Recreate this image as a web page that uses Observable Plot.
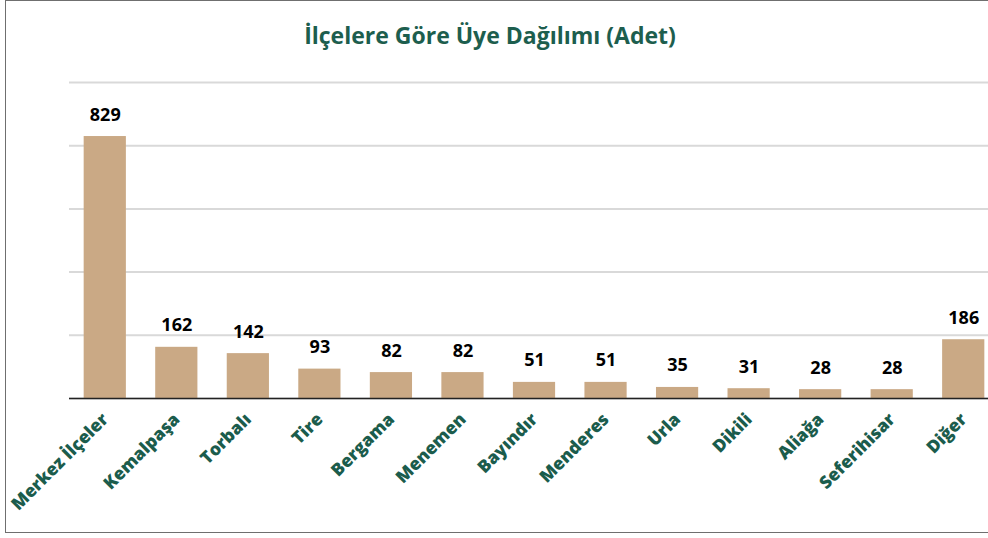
<!DOCTYPE html>
<html>
<head>
<meta charset="utf-8">
<script src="https://cdn.jsdelivr.net/npm/d3@7"></script>
<script src="https://cdn.jsdelivr.net/npm/@observablehq/plot@0.6"></script>
<style>
  html, body { margin: 0; padding: 0; overflow: hidden; background: #fff; width: 988px; height: 538px; }
  #frame { position: absolute; left: 5px; top: 0px; width: 1100px; height: 533px; border: 1px solid #6f6f6f; border-right: none; box-sizing: border-box; }
  #title { position: absolute; left: 0; width: 980px; top: 19px; text-align: center; font-family: "Open Sans", sans-serif; font-weight: 700; font-size: 23px; line-height: 32px; color: #1d5e4e; }
  #chart { position: absolute; left: 0; top: 60px; width: 1000px; }
  #chart svg { max-width: none !important; }
</style>
</head>
<body>
<div id="frame"></div>
<div id="title">İlçelere Göre Üye Dağılımı (Adet)</div>
<div id="chart"></div>
<script>
const categories = ["Merkez İlçeler", "Kemalpaşa", "Torbalı", "Tire", "Bergama", "Menemen", "Bayındır", "Menderes", "Urla", "Dikili", "Aliağa", "Seferihisar", "Diğer"];
const values = [829, 162, 142, 93, 82, 82, 51, 51, 35, 31, 28, 28, 186];
const gridTicks = [0, 200, 400, 600, 800, 1000];

const data = categories.map((c, i) => ({cat: c, value: values[i]}));

const chart = Plot.plot({
  width: 1000,
  height: 473,
  marginLeft: 69,
  marginRight: 1,
  marginTop: 22,
  marginBottom: 135,
  style: {fontFamily: "Open Sans, sans-serif", overflow: "visible", background: "transparent", maxWidth: "none"},
  x: {domain: categories, paddingInner: 0.41, paddingOuter: 0.205, round: false, label: null},
  y: {domain: [0, 1000], axis: null},
  marks: [
    Plot.gridY(gridTicks, {stroke: "#d9d9d9", strokeOpacity: 1, strokeWidth: 2}),
    Plot.barY(data, {x: "cat", y: "value", fill: "#caa985"}),
    Plot.ruleY([0], {stroke: "#222", strokeWidth: 1.5}),
    Plot.text(data, {x: "cat", y: "value", text: d => String(d.value), dy: -16, lineAnchor: "bottom", fontWeight: "bold", fontSize: 18, fill: "#000"}),
    Plot.axisX({tickSize: 0, tickPadding: 18, tickRotate: -45, fontSize: 17.5, fontWeight: 800, color: "#1b5c4c", label: null})
  ]
});
document.getElementById("chart").appendChild(chart);
</script>
</body>
</html>
